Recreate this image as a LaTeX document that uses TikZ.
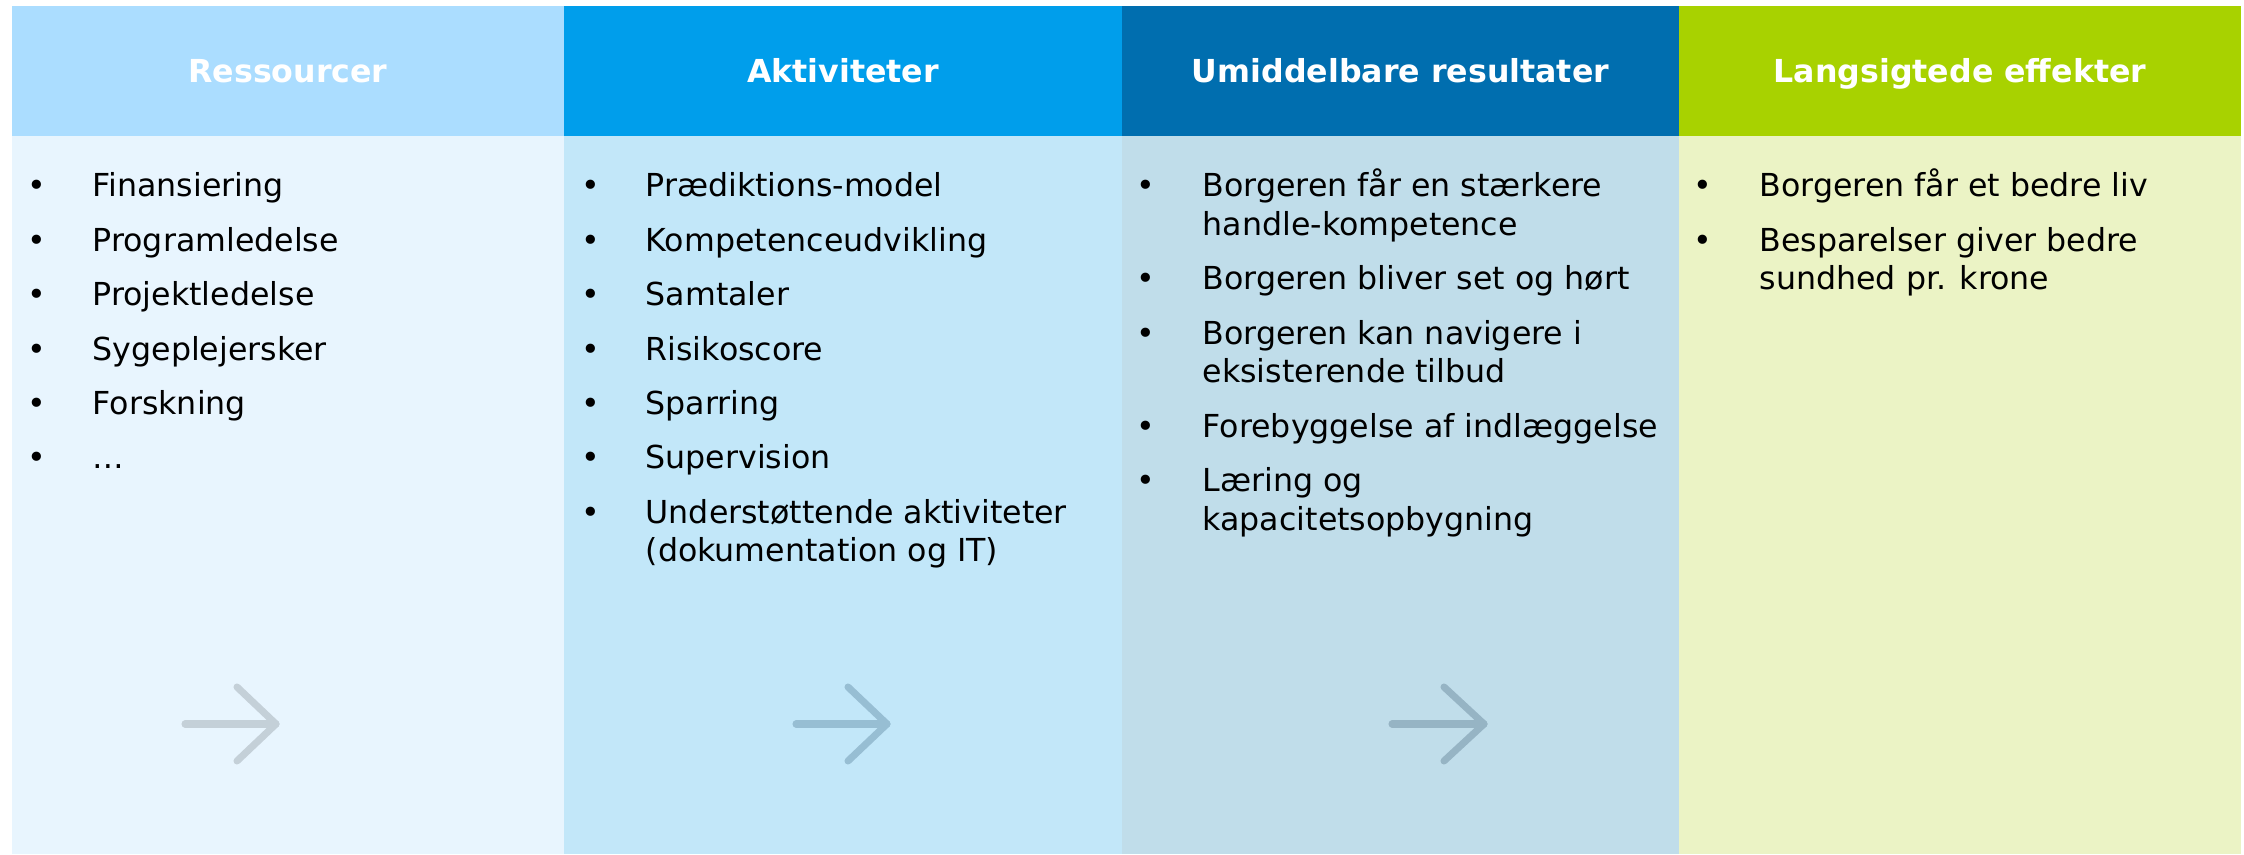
\documentclass[tikz,border=0pt]{standalone}
\usepackage{fontspec}
\setmainfont{DejaVu Sans}
\definecolor{hA}{RGB}{171,221,255}
\definecolor{hB}{RGB}{0,158,235}
\definecolor{hC}{RGB}{0,110,175}
\definecolor{hD}{RGB}{168,210,0}
\definecolor{bA}{RGB}{232,245,254}
\definecolor{bB}{RGB}{194,231,249}
\definecolor{bC}{RGB}{192,221,234}
\definecolor{bD}{RGB}{235,243,197}
\definecolor{aA}{RGB}{196,208,216}
\definecolor{aB}{RGB}{151,190,211}
\definecolor{aC}{RGB}{150,180,196}
\newcommand\bodyfnt{\fontsize{9}{11}\selectfont}
\begin{document}
\begin{tikzpicture}[x=0.01cm,y=-0.01cm,
  hdr/.style={inner sep=0pt, minimum height=1.30cm, text=white, text height=6.6pt, text depth=0pt, font=\fontsize{9}{11}\selectfont\bfseries},
  bodybox/.style={inner sep=0pt, minimum height=7.18cm},
  bul/.style={anchor=base, inner sep=0pt, font=\bodyfnt},
  txt/.style={anchor=base west, inner sep=0pt, font=\bodyfnt},
  arr/.style={line width=2pt, line cap=round, line join=round}]
\useasboundingbox (0,0) rectangle (2244,855);
% headers
\node[hdr, fill=hA, minimum width=5.52cm] (h1) at (288,71) {Ressourcer};
\node[hdr, fill=hB, minimum width=5.58cm] (h2) at (843,71) {Aktiviteter};
\node[hdr, fill=hC, minimum width=5.57cm] (h3) at (1400.5,71) {Umiddelbare resultater};
\node[hdr, fill=hD, minimum width=5.62cm] (h4) at (1960,71) {Langsigtede effekter};
% bodies
\node[bodybox, fill=bA, minimum width=5.52cm] (b1) at (288,495) {};
\node[bodybox, fill=bB, minimum width=5.58cm] (b2) at (843,495) {};
\node[bodybox, fill=bC, minimum width=5.57cm] (b3) at (1400.5,495) {};
\node[bodybox, fill=bD, minimum width=5.62cm] (b4) at (1960,495) {};
% column 1
\node[bul] (p1) at (37,197) {•};   \node[txt] (t1) at (92,197) {Finansiering};
\node[bul] (p2) at (37,251.4) {•}; \node[txt] (t2) at (92,251.4) {Programledelse};
\node[bul] (p3) at (37,305.8) {•}; \node[txt] (t3) at (92,305.8) {Projektledelse};
\node[bul] (p4) at (37,360.2) {•}; \node[txt] (t4) at (92,360.2) {Sygeplejersker};
\node[bul] (p5) at (37,414.6) {•}; \node[txt] (t5) at (92,414.6) {Forskning};
\node[bul] (p6) at (37,469) {•};   \node[txt] (t6) at (92,469) {…};
% column 2
\node[bul] (q1) at (591,197) {•};   \node[txt] (u1) at (645,197) {Prædiktions-model};
\node[bul] (q2) at (591,251.4) {•}; \node[txt] (u2) at (645,251.4) {Kompetenceudvikling};
\node[bul] (q3) at (591,305.8) {•}; \node[txt] (u3) at (645,305.8) {Samtaler};
\node[bul] (q4) at (591,360.2) {•}; \node[txt] (u4) at (645,360.2) {Risikoscore};
\node[bul] (q5) at (591,414.6) {•}; \node[txt] (u5) at (645,414.6) {Sparring};
\node[bul] (q6) at (591,469) {•};   \node[txt] (u6) at (645,469) {Supervision};
\node[bul] (q7) at (591,523.4) {•}; \node[txt] (u7) at (645,523.4) {Understøttende aktiviteter};
\node[txt] (u7b) at (645,562) {(dokumentation og IT)};
% column 3
\node[bul] (r1) at (1146,197) {•};   \node[txt] (v1) at (1202,197) {Borgeren får en stærkere};
\node[txt] (v1b) at (1202,235.6) {handle-kompetence};
\node[bul] (r2) at (1146,290) {•};   \node[txt] (v2) at (1202,290) {Borgeren bliver set og hørt};
\node[bul] (r3) at (1146,344.4) {•}; \node[txt] (v3) at (1202,344.4) {Borgeren kan navigere i};
\node[txt] (v3b) at (1202,383) {eksisterende tilbud};
\node[bul] (r4) at (1146,437.4) {•}; \node[txt] (v4) at (1202,437.4) {Forebyggelse af indlæggelse};
\node[bul] (r5) at (1146,491.8) {•}; \node[txt] (v5) at (1202,491.8) {Læring og};
\node[txt] (v5b) at (1202,530.4) {kapacitetsopbygning};
% column 4
\node[bul] (s1) at (1703,197) {•};   \node[txt] (w1) at (1759,197) {Borgeren får et bedre liv};
\node[bul] (s2) at (1703,251.4) {•}; \node[txt] (w2) at (1759,251.4) {Besparelser giver bedre};
\node[txt] (w2b) at (1759,290) {sundhed pr. krone};
% arrows
\coordinate (k1s) at (185,724); \coordinate (k1t) at (276,724);
\coordinate (k1u) at (237,687); \coordinate (k1d) at (237,761);
\draw[arr, draw=aA] (k1s) -- (k1t);
\draw[arr, draw=aA] (k1u) -- (k1t) -- (k1d);
\coordinate (k2s) at (796,724); \coordinate (k2t) at (887,724);
\coordinate (k2u) at (848,687); \coordinate (k2d) at (848,761);
\draw[arr, draw=aB] (k2s) -- (k2t);
\draw[arr, draw=aB] (k2u) -- (k2t) -- (k2d);
\coordinate (k3s) at (1392,724); \coordinate (k3t) at (1484,724);
\coordinate (k3u) at (1444,687); \coordinate (k3d) at (1444,761);
\draw[arr, draw=aC] (k3s) -- (k3t);
\draw[arr, draw=aC] (k3u) -- (k3t) -- (k3d);
\end{tikzpicture}
\end{document}
